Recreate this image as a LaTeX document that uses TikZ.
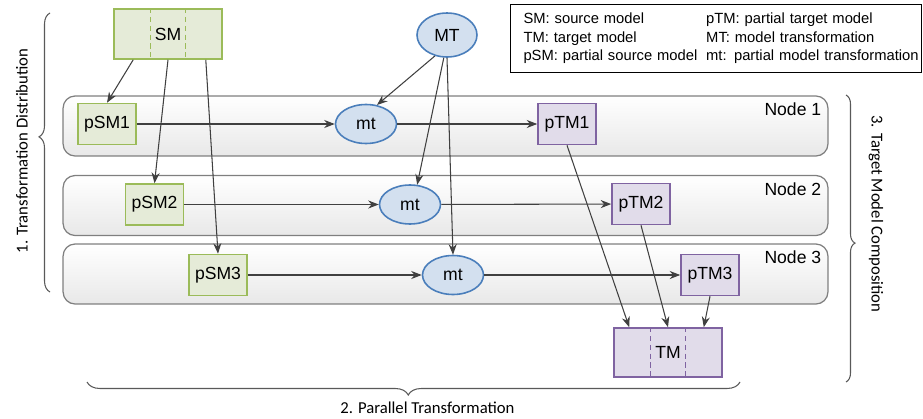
\documentclass[tikz,border=0pt]{standalone}
\usepackage{fontspec}
\newfontfamily\arialfont{Liberation Sans}
\newfontfamily\calfont{Carlito}
\usetikzlibrary{arrows.meta,shapes.geometric,decorations.pathreplacing}
\definecolor{srcfill}{HTML}{E5EBD8}
\definecolor{srcline}{HTML}{9BBB59}
\definecolor{trffill}{HTML}{D3E0EF}
\definecolor{trfline}{HTML}{4A7EBB}
\definecolor{tgtfill}{HTML}{E1DCEA}
\definecolor{tgtline}{HTML}{7F63A1}
\definecolor{bandline}{HTML}{7F7F7F}
\definecolor{arrowc}{HTML}{404040}
\tikzset{
  modelnode/.style = {align=center, inner sep=0pt, line width=0.9pt,
    font=\arialfont\fontsize{10}{12}\selectfont},
  src_n/.style = {modelnode, rectangle, draw=srcline, fill=srcfill,
    minimum width=1.16cm, minimum height=0.82cm},% partial source model
  src_big/.style = {src_n, minimum width=2.16cm, minimum height=1.0cm},% source model
  trf_n/.style = {modelnode, ellipse, draw=trfline, fill=trffill,
    minimum width=1.22cm, minimum height=0.78cm},% partial transformation
  trf_big/.style = {trf_n, minimum width=1.2cm, minimum height=0.88cm},% transformation
  tgt_n/.style = {modelnode, rectangle, draw=tgtline, fill=tgtfill,
    minimum width=1.16cm, minimum height=0.82cm},% partial target model
  tgt_big/.style = {tgt_n, minimum width=2.16cm, minimum height=0.98cm},% target model
  band_n/.style = {rectangle, rounded corners=0.24cm, draw=bandline, line width=0.7pt,
    top color=white, bottom color=black!9, minimum width=15.3cm,
    minimum height=1.2cm, inner sep=0pt},% compute node
  band_lbl/.style = {inner sep=0pt, font=\arialfont\fontsize{10}{12}\selectfont},
  legend_n/.style = {rectangle, draw=black, line width=0.6pt, inner xsep=0.26cm,
    inner ysep=0pt, text width=7.7cm, minimum height=1.36cm, align=left,
    font=\arialfont\fontsize{8.4}{10.4}\selectfont},
  phase/.style = {inner sep=0pt, font=\calfont\fontsize{9.5}{11}\selectfont},
  brace_d/.style = {draw=black!65, line width=0.6pt, decorate}
}
\begin{document}
\begin{tikzpicture}[x=0.02cm, y=-0.02cm,
  flow/.style = {->, draw=arrowc, line width=0.6pt},
  >={Stealth[length=6pt,width=4.6pt]}]
\useasboundingbox (0,0) rectangle (923,419);
% the three compute nodes
\node [band_n] (band1) at (445.5,126) {};
\node [band_n] (band2) at (445.5,205.5) {};
\node [band_n] (band3) at (445.5,274) {};
\foreach \i in {1,2,3}
  \node [band_lbl, anchor=north east] (lbl\i)
    at ([xshift=-0.14cm,yshift=-0.15cm]band\i.north east) {Node \i};
% models and transformations
\node [src_big] (SM) at (168,34) {SM};
\node [trf_big] (MT) at (447,35) {MT};
\node [src_n] (pSM1) at (107,124) {pSM1};
\node [trf_n] (mt1) at (366,124) {mt};
\node [tgt_n] (pTM1) at (567,124) {pTM1};
\node [src_n] (pSM2) at (154.5,204.5) {pSM2};
\node [trf_n] (mt2) at (410,204.5) {mt};
\node [tgt_n] (pTM2) at (641,204) {pTM2};
\node [src_n] (pSM3) at (218,275) {pSM3};
\node [trf_n] (mt3) at (453,275) {mt};
\node [tgt_n] (pTM3) at (710,275) {pTM3};
\node [tgt_big] (TM) at (668,352.5) {TM};
\foreach \n/\c in {SM/srcline, TM/tgtline}
  \foreach \s in {-0.35cm,0.35cm}
    \draw [\c, line width=0.7pt, dash pattern=on 3pt off 2pt]
      ([xshift=\s]\n.north) -- ([xshift=\s]\n.south);
% legend
\node [legend_n, anchor=north west] (legend) at (510,4) {%
  \begin{tabular}{@{}l@{\hspace{5pt}}l@{}}
  SM: source model & pTM: partial target model\\
  TM: target model & MT: model transformation\\
  pSM: partial source model & mt: partial model transformation
  \end{tabular}};
% distribution
\draw [flow] ([xshift=0.4cm]SM.south west) -- (pSM1.north);
\draw [flow] (SM.south) -- (pSM2.north);
\draw [flow] ([xshift=-0.34cm]SM.south east) -- (pSM3.north);
\draw [flow] (MT.240) -- (mt1.60);
\draw [flow] (MT.262) -- (mt2.70);
\draw [flow] (MT.south) -- (mt3.north);
% transformation
\foreach \i in {1,2,3} {
  \draw [flow] (pSM\i) -- (mt\i);
  \draw [flow] (mt\i) -- (pTM\i);
}
% composition
\draw [flow] (pTM1.south) -- ([xshift=0.32cm]TM.north west);
\draw [flow] (pTM2.south) -- (TM.north);
\draw [flow] (pTM3.south) -- ([xshift=-0.38cm]TM.north east);
% phases
\coordinate (ltop) at (50,13);
\coordinate (lbot) at (50,292);
\coordinate (bright) at (740,382);
\coordinate (bleft) at (87,382);
\coordinate (rtop) at (846,95);
\coordinate (rbot) at (846,382);
\draw [brace_d, decoration={brace, amplitude=0.22cm, aspect=0.556}] (lbot) -- (ltop);
\draw [brace_d, decoration={brace, amplitude=0.26cm, aspect=0.508}] (bright) -- (bleft);
\draw [brace_d, decoration={brace, amplitude=0.18cm, aspect=0.516}] (rtop) -- (rbot);
\node [phase, rotate=90] (phase1) at (22,151) {1. Transformation Distribution};
\node [phase, anchor=west] (phase2) at (340,408) {2. Parallel Transformation};
\node [phase, rotate=-90] (phase3) at (876,214) {3. Target Model Composition};
\end{tikzpicture}
\end{document}
